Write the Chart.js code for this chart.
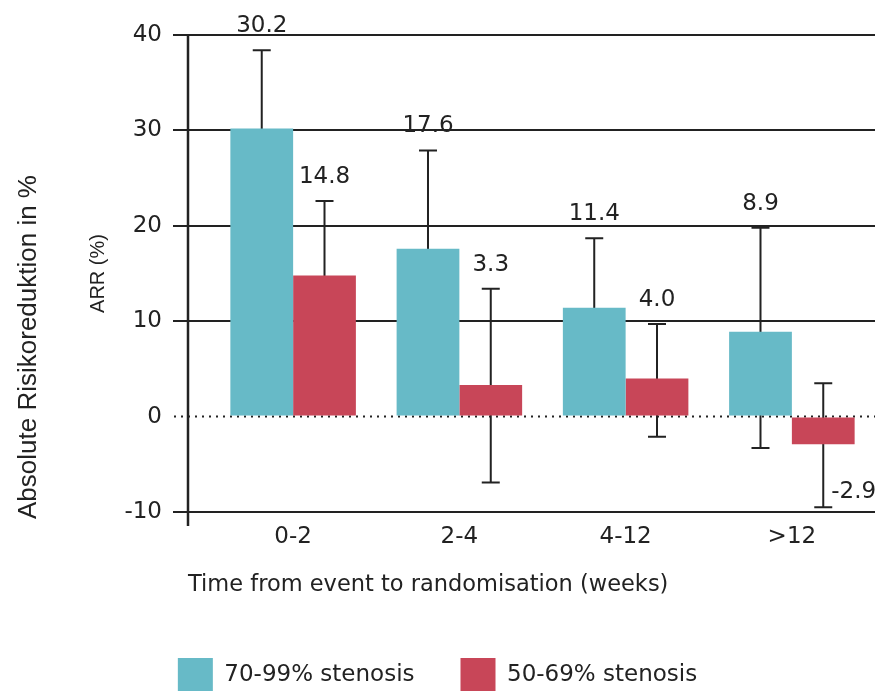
<!DOCTYPE html>
<html>
<head>
<meta charset="utf-8">
<script src="https://cdn.jsdelivr.net/npm/chart.js@4.4.1/dist/chart.umd.min.js"></script>
<style>
  html, body { margin: 0; padding: 0; background: #fff; overflow: hidden; }
</style>
</head>
<body>
<canvas id="arrChart" width="875" height="703"></canvas>
<script>
// ARR nach Zeit vom Ereignis bis zur Randomisierung
const categories = ['0-2', '2-4', '4-12', '>12'];
const yTicks = [-10, 0, 10, 20, 30, 40];

const severeLabel = '70-99% stenosis';
const severeArr = [30.2, 17.6, 11.4, 8.9];
const severeUpper = [38.4, 27.9, 18.7, 19.8];
const severeLower = [22.0, 7.3, 4.1, -3.3];   // erste drei vom Balken verdeckt

const moderateLabel = '50-69% stenosis';
const moderateArr = [14.8, 3.3, 4.0, -2.9];
const moderateUpper = [22.6, 13.4, 9.7, 3.5];
const moderateLower = [7.0, -6.9, -2.1, -9.5];

const ink = '#222';
const font = '"DejaVu Sans", sans-serif';
const arial = '"Liberation Sans", Arial, sans-serif';

const errorBars = {
  id: 'errorBars',
  beforeDatasetsDraw(chart) {
    const {ctx, chartArea, scales: {y}} = chart;
    const zeroY = y.getPixelForValue(0);
    const axisX = chartArea.left - 22;

    ctx.save();
    // gepunktete Nulllinie
    ctx.strokeStyle = ink;
    ctx.lineWidth = 2;
    ctx.setLineDash([2, 5]);
    ctx.beginPath();
    ctx.moveTo(axisX - 14, zeroY);
    ctx.lineTo(chartArea.right, zeroY);
    ctx.stroke();
    ctx.setLineDash([]);

    // y-Achse
    ctx.lineWidth = 2.5;
    ctx.beginPath();
    ctx.moveTo(axisX, chartArea.top);
    ctx.lineTo(axisX, chartArea.bottom + 14);
    ctx.stroke();

    // Fehlerbalken (hinter den Balken)
    ctx.lineWidth = 2;
    chart.data.datasets.forEach((ds, i) => {
      const meta = chart.getDatasetMeta(i);
      meta.data.forEach((bar, j) => {
        const top = y.getPixelForValue(ds.upper[j]);
        const bottom = y.getPixelForValue(ds.lower[j]);
        ctx.beginPath();
        ctx.moveTo(bar.x, top);
        ctx.lineTo(bar.x, bottom);
        ctx.moveTo(bar.x - 9, top);
        ctx.lineTo(bar.x + 9, top);
        ctx.moveTo(bar.x - 9, bottom);
        ctx.lineTo(bar.x + 9, bottom);
        ctx.stroke();
      });
    });
    ctx.restore();
  },
  afterDatasetsDraw(chart) {
    const {ctx, chartArea, scales: {y}} = chart;
    ctx.save();
    ctx.fillStyle = ink;
    ctx.font = '23px ' + font;
    ctx.textBaseline = 'middle';
    chart.data.datasets.forEach((ds, i) => {
      const meta = chart.getDatasetMeta(i);
      meta.data.forEach((bar, j) => {
        const v = ds.data[j];
        const txt = v.toFixed(1);
        if (v >= 0) {
          ctx.textAlign = 'center';
          ctx.fillText(txt, bar.x, y.getPixelForValue(ds.upper[j]) - 24);
        } else {
          ctx.textAlign = 'left';
          ctx.fillText(txt, bar.x + 8, y.getPixelForValue(ds.lower[j]) - 15);
        }
      });
    });

    // Achsentitel
    ctx.font = '22.5px ' + font;
    ctx.textAlign = 'left';
    ctx.fillText('Time from event to randomisation (weeks)', chartArea.left - 22, 585);

    ctx.translate(29, 347);
    ctx.rotate(-Math.PI / 2);
    ctx.textAlign = 'center';
    ctx.font = '26px ' + arial;
    ctx.fillText('Absolute Risikoreduktion in %', 0, 0);
    ctx.restore();
  }
};

new Chart(document.getElementById('arrChart'), {
  type: 'bar',
  data: {
    labels: categories,
    datasets: [{
      label: severeLabel,
      data: severeArr,
      upper: severeUpper,
      lower: severeLower,
      backgroundColor: '#67bac7',
      borderWidth: 0
    }, {
      label: moderateLabel,
      data: moderateArr,
      upper: moderateUpper,
      lower: moderateLower,
      backgroundColor: '#c84658',
      borderWidth: 0
    }]
  },
  options: {
    responsive: false,
    animation: false,
    layout: { padding: { top: 35, left: 0, right: 0, bottom: 0 } },
    datasets: { bar: { barPercentage: 1, categoryPercentage: 0.755 } },
    scales: {
      x: {
        grid: { display: false },
        border: { display: true, color: ink, width: 2 },
        ticks: { color: ink, padding: 3, font: { family: font, size: 23 } },
        afterFit(scale) { scale.height = 100; }
      },
      y: {
        min: -10,
        max: 40,
        afterBuildTicks(scale) { scale.ticks = yTicks.map(v => ({ value: v })); },
        afterFit(scale) { scale.width = 210; },
        border: { display: false },
        grid: {
          color: c => c.tick && c.tick.value === 0 ? 'rgba(0,0,0,0)' : ink,
          tickColor: c => c.tick && c.tick.value === 0 ? 'rgba(0,0,0,0)' : ink,
          lineWidth: 2,
          tickLength: 37
        },
        ticks: { color: ink, padding: 11, font: { family: font, size: 23 } },
        title: {
          display: true,
          text: 'ARR (%)',
          color: ink,
          padding: { top: 86, bottom: 0 },
          font: { family: arial, size: 20 }
        }
      }
    },
    plugins: {
      tooltip: { enabled: false },
      legend: {
        position: 'bottom',
        labels: {
          color: ink,
          boxWidth: 35,
          boxHeight: 35,
          padding: 46,
          font: { family: font, size: 23 }
        }
      }
    }
  },
  plugins: [errorBars]
});
</script>
</body>
</html>
